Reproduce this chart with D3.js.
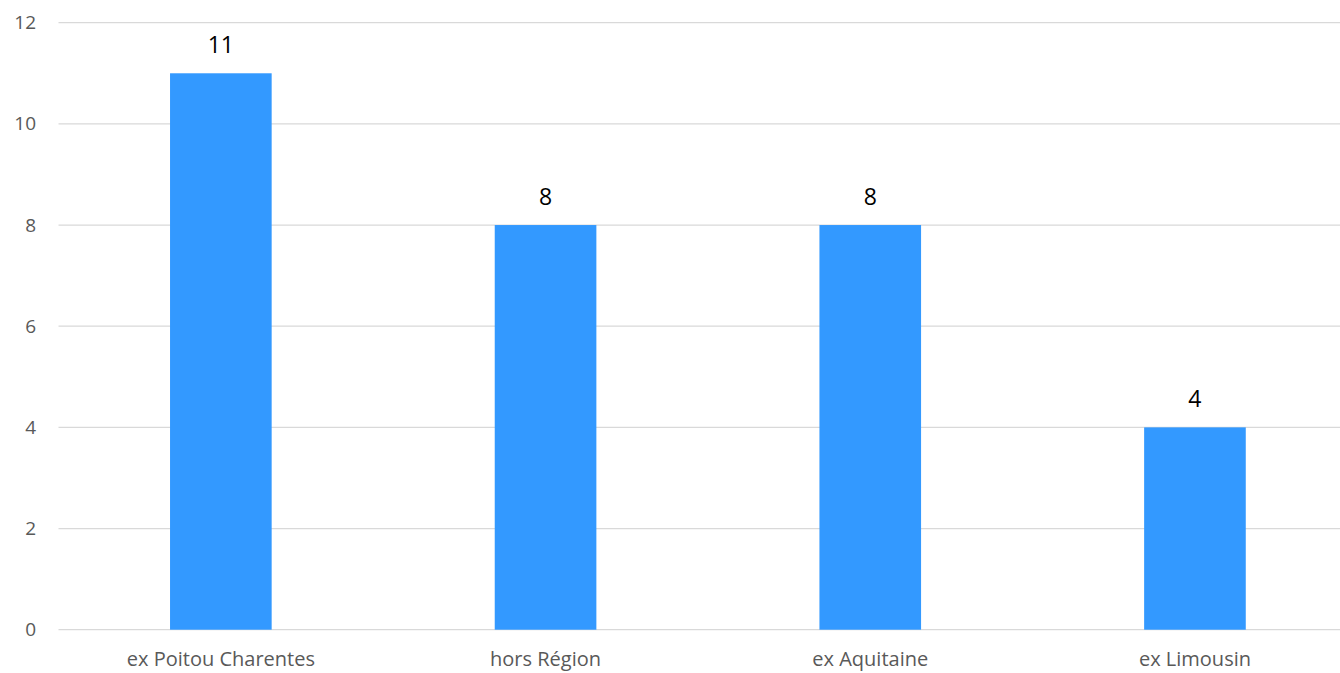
<!DOCTYPE html>
<html>
<head>
<meta charset="utf-8">
<script src="https://cdn.jsdelivr.net/npm/d3@7"></script>
<style>
  body { margin: 0; background: #fff; }
  svg { display: block; }
  text { font-family: "Open Sans", Lato, sans-serif; }
</style>
</head>
<body>
<div id="chart"></div>
<script>
// data
const categories = ["ex Poitou Charentes", "hors Région", "ex Aquitaine", "ex Limousin"];
const values = [11, 8, 8, 4];
const yTicks = [0, 2, 4, 6, 8, 10, 12];

const W = 1340, H = 673;
const margin = { top: 22.7, left: 58.5, bottom: 43.3 };
const plotRight = 1357.3; // plot area runs past the window edge

let svg = d3.select('#chart').append('svg')
    .attr('width', W)
    .attr('height', H);

let x = d3.scaleBand()
    .domain(categories)
    .range([margin.left, plotRight])
    .paddingInner(0.687)
    .paddingOuter(0.3435);

let y = d3.scaleLinear()
    .domain([0, 12])
    .range([H - margin.bottom, margin.top]);

// gridlines
svg.append('g')
    .selectAll('line')
    .data(yTicks)
    .enter().append('line')
    .attr('x1', margin.left)
    .attr('x2', plotRight)
    .attr('y1', d => y(d))
    .attr('y2', d => y(d))
    .attr('stroke', '#d9d9d9')
    .attr('stroke-width', 1.3);

// y tick labels
let yAxis = d3.axisLeft(y).tickValues(yTicks).tickSize(0).tickPadding(0);
let gy = svg.append('g')
    .attr('transform', `translate(36,0)`)
    .call(yAxis);
gy.select('.domain').remove();
gy.selectAll('text')
    .attr('fill', '#595959')
    .style('font-size', '19px')
    .style('font-family', '"Open Sans", Lato, sans-serif');

// bars
svg.selectAll('.bar')
    .data(values)
    .enter().append('rect')
    .attr('class', 'bar')
    .attr('x', (d, i) => x(categories[i]))
    .attr('width', x.bandwidth())
    .attr('y', d => y(d))
    .attr('height', d => y(0) - y(d))
    .attr('fill', '#3399ff');

// value labels
svg.selectAll('.val')
    .data(values)
    .enter().append('text')
    .attr('class', 'val')
    .attr('x', (d, i) => x(categories[i]) + x.bandwidth() / 2)
    .attr('y', d => y(d) - 20)
    .attr('text-anchor', 'middle')
    .style('font-size', '23px')
    .attr('fill', '#000')
    .text(d => d);

// x category labels
let xAxis = d3.axisBottom(x).tickSize(0).tickPadding(0);
let gx = svg.append('g')
    .attr('transform', `translate(0,${y(0)})`)
    .call(xAxis);
gx.select('.domain').remove();
gx.selectAll('text')
    .attr('dy', null)
    .attr('y', 36)
    .attr('fill', '#595959')
    .style('font-size', '20px')
    .style('font-family', '"Open Sans", Lato, sans-serif');
</script>
</body>
</html>
